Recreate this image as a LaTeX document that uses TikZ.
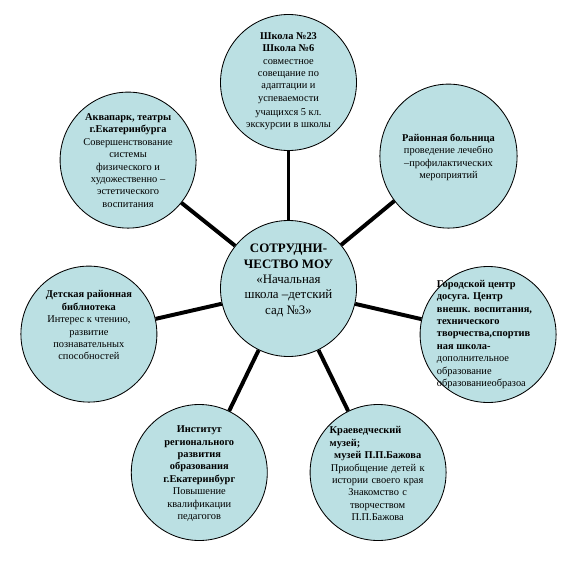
\documentclass[tikz,border=0pt]{standalone}
\usepackage{fontspec}
\setmainfont{Liberation Serif}
\usetikzlibrary{shapes.geometric}
\definecolor{bubblefill}{RGB}{187,224,227}

\begin{document}
\begin{tikzpicture}[
    bubble/.style={draw=black, line width=0.6pt, fill=bubblefill, circle,
                   minimum size=3.4cm, inner sep=0pt},
    txt/.style={align=center, inner sep=0pt, font=\fontsize{7.4}{8.8}\selectfont},
    hubtxt/.style={txt, font=\fontsize{9.2}{11}\selectfont},
    link/.style={line width=2.8pt, black}
  ]
    \useasboundingbox (-7.2125,-7.2125) rectangle (7.2125,7.2125);

    % circles
    \node[bubble] (hub) at (0,0) {};
    \node[bubble] (school) at (0,5.15) {};
    \node[bubble] (aqua) at (-4.01,3.21) {};
    \node[bubble, ellipse, minimum width=3.43cm, minimum height=3.6cm] (clinic) at (4.0,3.31) {};
    \node[bubble] (library) at (-4.99,-1.14) {};
    \node[bubble] (leisure) at (4.99,-1.15) {};
    \node[bubble] (institute) at (-2.23,-4.6) {};
    \node[bubble] (museum) at (2.24,-4.6) {};

    % texts
    \node[hubtxt] (hubtxt) at (0,0.2)
      {\textbf{СОТРУДНИ-}\\\textbf{ЧЕСТВО МОУ}\\«Начальная\\школа –детский\\сад №3»};
    \node[txt] (schooltxt) at (0,5.18)
      {\textbf{Школа №23}\\\textbf{Школа №6}\\совместное\\совещание по\\адаптации и\\успеваемости\\[1.5pt]учащихся 5 кл.\\экскурсии в школы};
    \node[txt] (aquatxt) at (-4.01,3.2)
      {\textbf{Аквапарк, театры}\\\textbf{г.Екатеринбурга}\\Совершенствование\\системы\\физического и\\художественно –\\эстетического\\воспитания};
    \node[txt] (clinictxt) at (4.0,3.28)
      {\textbf{Районная больница}\\проведение лечебно\\–профилактических\\мероприятий};
    \node[txt] (librarytxt) at (-4.99,-0.92)
      {\textbf{Детская районная}\\\textbf{библиотека}\\Интерес к чтению,\\развитие\\познавательных\\способностей};
    \node[txt, align=left] (leisuretxt) at (4.9,-1.15)
      {\textbf{Городской центр}\\\textbf{досуга. Центр}\\\textbf{внешк. воспитания,}\\\textbf{технического}\\\textbf{творчества,спортив}\\\textbf{ная школа-}\\дополнительное\\образование\\образованиеобразоа};
    \node[txt] (institutetxt) at (-2.23,-4.63)
      {\textbf{Институт}\\\textbf{регионального}\\\textbf{развития}\\\textbf{образования}\\\textbf{г.Екатеринбург}\\Повышение\\квалификации\\педагогов};
    \node[txt, text width=2.4cm] (museumtxt) at (2.23,-4.63)
      {\makebox[\linewidth][l]{\textbf{Краеведческий}}\\\makebox[\linewidth][l]{\textbf{музей;}}\\\textbf{музей П.П.Бажова}\\Приобщение детей к\\истории своего края\\Знакомство с\\творчеством\\П.П.Бажова};

    % links
    \foreach \n in {school,aqua,clinic,library,leisure,institute,museum} {
      \draw[link] (hub) -- (\n);
    }
  \end{tikzpicture}
\end{document}
